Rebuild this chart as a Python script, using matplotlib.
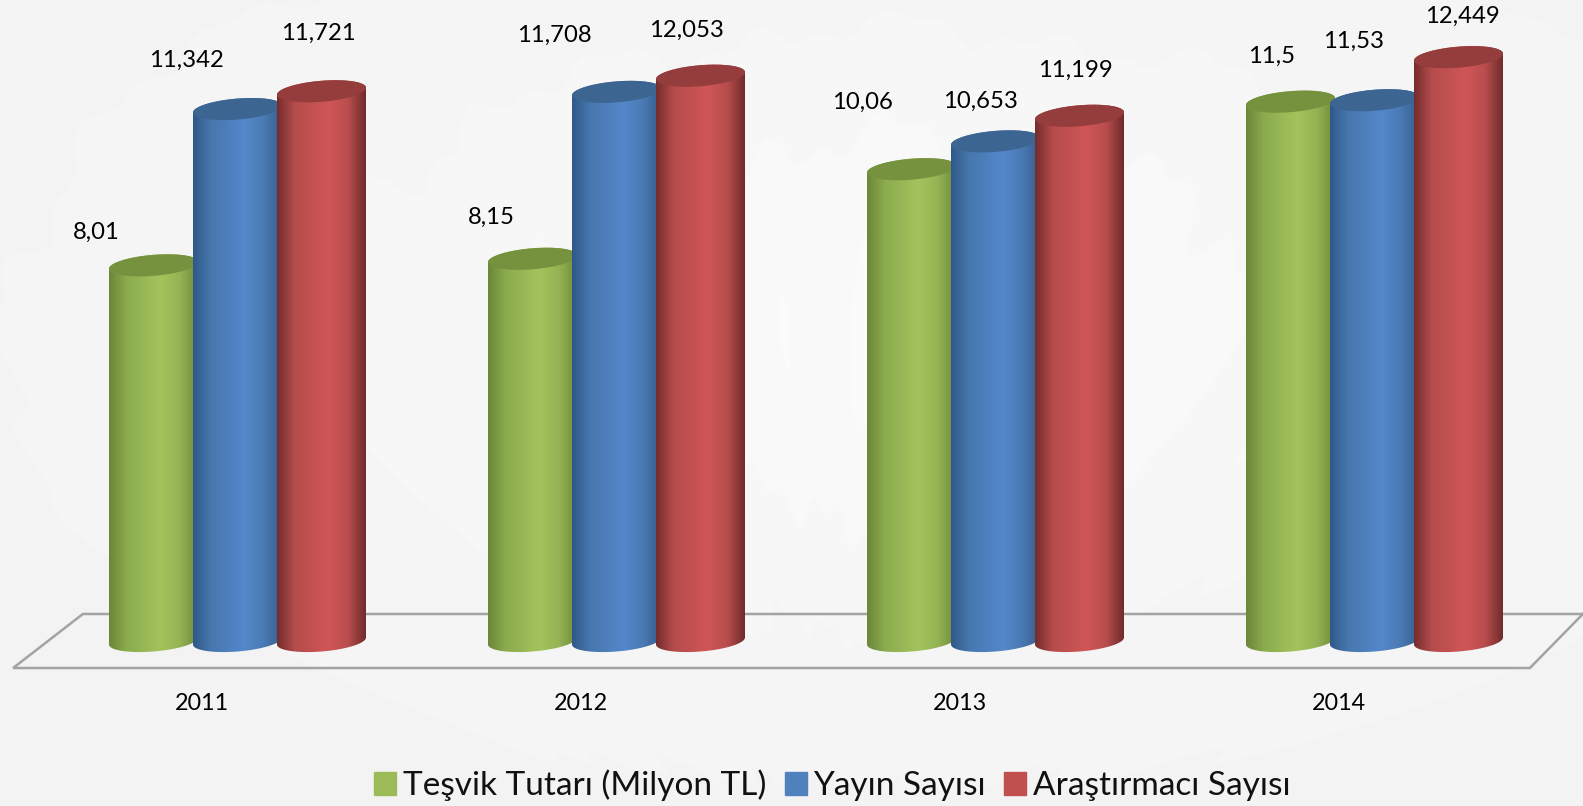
import numpy as np
import matplotlib
matplotlib.use("Agg")
import matplotlib.pyplot as plt
from matplotlib.patches import Patch, Polygon

years = ["2011", "2012", "2013", "2014"]
tesvik = [8.01, 8.15, 10.06, 11.5]
yayin = [11.342, 11.708, 10.653, 11.53]
arastirmaci = [11.721, 12.053, 11.199, 12.449]

tesvik_labels = ["8,01", "8,15", "10,06", "11,5"]
yayin_labels = ["11,342", "11,708", "10,653", "11,53"]
arastirmaci_labels = ["11,721", "12,053", "11,199", "12,449"]

# label offsets from bar top, in pixels
tesvik_off = [(-57, 33), (-41, 41), (-49, 67), (-19, 45)]
yayin_off = [(-51, 49), (-62, 57), (-15, 40), (-21, 59)]
arastirmaci_off = [(-3, 58), (-14, 45), (-4, 45), (4, 41)]

# edge, mid, light, mid, edge
green = ["#6b8738", "#8bab4e", "#a3c45c", "#94b353", "#6f8b3a"]
blue = ["#2f5888", "#4777ae", "#5488cb", "#4a7ab3", "#335d8e"]
red = ["#742c2c", "#b54c4c", "#d05656", "#b94d4d", "#702b2b"]
green_top = "#77923f"
blue_top = "#3d6592"
red_top = "#953c3c"

W, H = 1583, 806
PX_X = 379.0  # pixels per group
PX_Y = 46.9  # pixels per value unit
X0, Y0 = 237.5, 641.0
BAR_STEP = 84 / PX_X
BAR_HALF = 44.5 / PX_X
B_EL = 10.5 / PX_Y
TILT = 3.5 / PX_Y


def background(ax):
    yy, xx = np.mgrid[0:H, 0:W]
    ang = np.arctan2(yy - 900.0, xx - 830.0)
    rays = np.sin(ang * 37) * 0.5 + np.sin(ang * 91 + 1.0) * 0.3 + np.sin(ang * 17 + 2.0) * 0.4
    glow = np.exp(-(((xx - 900) / 650.0) ** 2 + ((yy - 330) / 330.0) ** 2))
    img = 243 + 6 * glow + (rays + 1.2) * 0.8 * glow
    img = np.clip(img, 0, 255) / 255.0
    ax.imshow(img, cmap="gray", vmin=0, vmax=1, extent=ax.axis(), aspect="auto", zorder=0)


def cylinder(ax, cx, v, colors, top, z):
    t = np.linspace(0, np.pi, 80)
    # lower half at the base, upper half at the value
    xb = cx + BAR_HALF * np.cos(t + np.pi)
    yb = -B_EL * np.sin(t) + TILT * np.cos(t + np.pi)
    xt = cx + BAR_HALF * np.cos(t)
    yt = v + B_EL * np.sin(t) + TILT * np.cos(t)
    body = Polygon(np.column_stack([np.r_[xb, xt], np.r_[yb, yt]]), closed=True,
                   transform=ax.transData, facecolor="none", edgecolor="none")
    ax.add_patch(body)

    pos = [0, 0.2, 0.58, 0.8, 1]
    rgb = np.array([matplotlib.colors.to_rgb(c) for c in colors])
    s = np.linspace(0, 1, 256)
    grad = np.stack([np.interp(s, pos, rgb[:, i]) for i in range(3)], axis=-1)[None, :, :]
    im = ax.imshow(grad, extent=(cx - BAR_HALF, cx + BAR_HALF, -2 * B_EL - TILT, v + 2 * B_EL),
                   aspect="auto", zorder=z, interpolation="bilinear")
    im.set_clip_path(body)

    tt = np.linspace(0, 2 * np.pi, 160)
    ax.fill(cx + BAR_HALF * np.cos(tt), v + B_EL * np.sin(tt) + TILT * np.cos(tt),
            color=top, lw=0, zorder=z + 0.1)


fig = plt.figure(figsize=(W / 100, H / 100), dpi=100)
plt.rcParams["font.family"] = ["Lato", "DejaVu Sans"]
ax = fig.add_axes([0, 0, 1, 1])
ax.set_xlim(-X0 / PX_X, (W - X0) / PX_X)
ax.set_ylim((Y0 - H) / PX_Y, Y0 / PX_Y)
background(ax)

# floor
ax.plot([3.55, -0.408, -0.592, 3.41, 3.55], [0.576, 0.576, -0.576, -0.576, 0.576],
        color="#a3a3a3", lw=1.8, zorder=1, solid_joinstyle="miter")

series = [(tesvik, tesvik_labels, tesvik_off, green, green_top, -1),
          (yayin, yayin_labels, yayin_off, blue, blue_top, 0),
          (arastirmaci, arastirmaci_labels, arastirmaci_off, red, red_top, 1)]

for n, (vals, labs, offs, cols, top, k) in enumerate(series):
    for i in range(len(years)):
        cx = i + k * BAR_STEP
        cylinder(ax, cx, vals[i], cols, top, 2 + n)
        ax.annotate(labs[i], xy=(cx, vals[i]), xytext=offs[i], textcoords="offset pixels",
                    ha="center", va="center", fontsize=17.2, color="black", zorder=10)

ax.set_xticks(np.arange(len(years)) - 0.095, years)
ax.tick_params(axis="x", length=0, pad=-81, labelsize=16.8, labelcolor="black")
ax.set_yticks([])
for sp in ax.spines.values():
    sp.set_visible(False)

handles = [Patch(color="#9bbb59", label="Teşvik Tutarı (Milyon TL)"),
           Patch(color="#4f81bd", label="Yayın Sayısı"),
           Patch(color="#c0504d", label="Araştırmacı Sayısı")]
ax.legend(handles=handles, loc="lower left", bbox_to_anchor=(371 / W, 0.002), ncol=3, frameon=False,
          fontsize=24, handlelength=0.66, handleheight=0.66, handletextpad=0.2,
          columnspacing=0.55, borderpad=0.1, borderaxespad=0, labelcolor="#111111")

fig.savefig("out.png", dpi=100)
